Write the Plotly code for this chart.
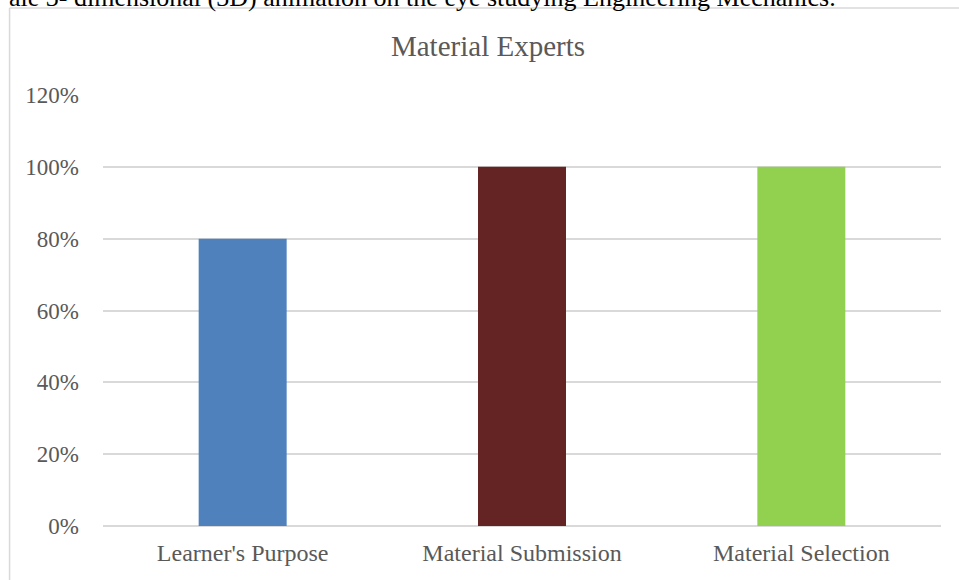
import plotly.graph_objects as go

categories = ["Learner's Purpose", "Material Submission", "Material Selection"]
values = [0.80, 1.00, 1.00]
colors = ["#4F81BD", "#632423", "#92D050"]
tick_vals = [0, 0.2, 0.4, 0.6, 0.8, 1.0, 1.2]
tick_text = ["0%", "20%", "40%", "60%", "80%", "100%", "120%"]
title_text = "Material Experts"
caption_text = "ale 3- dimensional (3D) animation on the eye studying Engineering Mechanics."

W, H = 959, 580
L, R, T, B = 102.5, 18, 95, 54
pw, ph = W - L - R, H - T - B

def px_to_paper_x(px):
    return (px - L) / pw

def px_to_paper_y(py):
    return (H - B - py) / ph

FONT = "Liberation Serif, Times New Roman, serif"

fig = go.Figure(go.Bar(x=categories, y=values, marker=dict(color=colors, line=dict(width=0)), width=0.315))

fig.update_layout(
    width=W, height=H,
    margin=dict(l=L, r=R, t=T, b=B, pad=0),
    paper_bgcolor="white", plot_bgcolor="white",
    showlegend=False,
    font=dict(family=FONT, color="#595959", size=22),
    title=dict(text=title_text, x=488 / W, xref="container", xanchor="center",
               y=1 - 46 / H, yref="container", yanchor="middle",
               font=dict(size=29, color="#595959", family=FONT)),
    xaxis=dict(showgrid=False, zeroline=False, showline=False, ticks="",
               tickfont=dict(size=24, color="#595959", family=FONT), ticklabelstandoff=10),
    yaxis=dict(range=[0, 1.2], tickvals=tick_vals, ticktext=tick_text,
               showgrid=True, gridcolor="#D9D9D9", gridwidth=1.5, zeroline=True,
               zerolinecolor="#D9D9D9", zerolinewidth=1.5, showline=False, ticks="",
               tickfont=dict(size=23, color="#595959", family=FONT), ticklabelstandoff=23),
    shapes=[
        dict(type="line", xref="paper", yref="paper",
             x0=px_to_paper_x(9), x1=px_to_paper_x(970), y0=px_to_paper_y(8), y1=px_to_paper_y(8),
             line=dict(color="#D9D9D9", width=1.5)),
        dict(type="line", xref="paper", yref="paper",
             x0=px_to_paper_x(9), x1=px_to_paper_x(9), y0=px_to_paper_y(8), y1=px_to_paper_y(600),
             line=dict(color="#D9D9D9", width=1.5)),
    ],
    annotations=[
        dict(text=caption_text, xref="paper", yref="paper",
             x=px_to_paper_x(838), xanchor="right",
             y=px_to_paper_y(14), yanchor="bottom", showarrow=False,
             font=dict(size=26, color="black", family=FONT)),
    ],
)

fig.write_html("out.html")
